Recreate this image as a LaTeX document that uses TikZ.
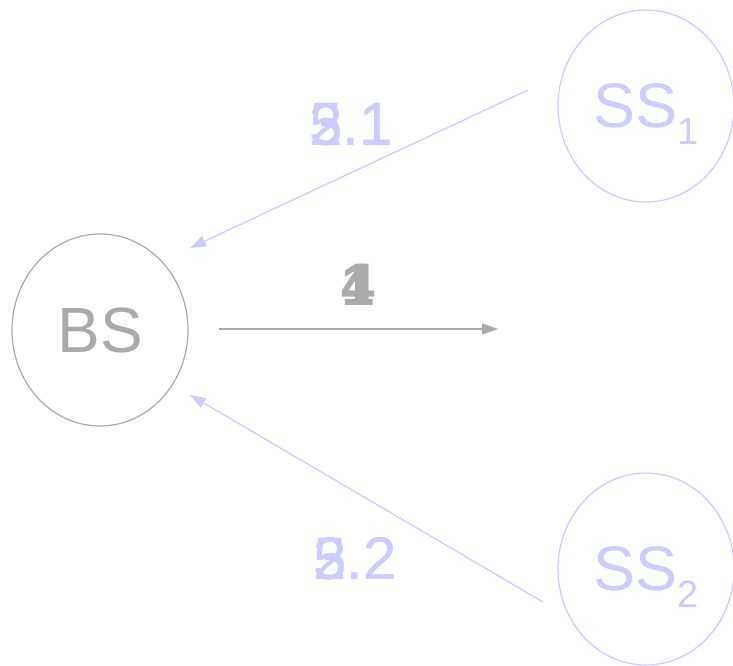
\documentclass[tikz,border=0pt]{standalone}
\usepackage{fontspec}
\setmainfont{Liberation Sans}
\usetikzlibrary{shapes.geometric,arrows.meta}
\definecolor{lav}{HTML}{CCCCFF}
\definecolor{gry}{HTML}{AAAAAA}
\newcommand{\stsub}[1]{\smash{\raisebox{-17pt}{\fontsize{38}{40}\selectfont #1}}}
\begin{document}
\begin{tikzpicture}[x=1pt,y=-1pt,
  station/.style={draw,ellipse,minimum width=176pt,minimum height=192pt,inner sep=0pt,line width=1.2pt},
  msg/.style={line width=1.2pt,-{Triangle[length=16pt,width=11pt]}},
  lbl/.style={font=\fontsize{60}{64}\selectfont,inner sep=0pt}]
\useasboundingbox (0,0) rectangle (733,666);
\node[station,draw=gry,text=gry,font=\fontsize{64}{70}\selectfont] (bs) at (100,330) {BS};
\node[station,draw=lav,text=lav,font=\fontsize{63}{70}\selectfont] (ss1) at (646,106) {SS\stsub{1}};
\node[station,draw=lav,text=lav,font=\fontsize{63}{70}\selectfont] (ss2) at (646,569) {SS\stsub{2}};
\coordinate (a1s) at (528,90);
\coordinate (a1e) at (190,248);
\coordinate (a2s) at (543,602);
\coordinate (a2e) at (190,395);
\coordinate (a0s) at (219,329);
\coordinate (a0e) at (498,329);
\draw[msg,lav] (a1s) -- (a1e);
\draw[msg,lav] (a2s) -- (a2e);
\draw[msg,gry] (a0s) -- (a0e);
\node[lbl,text=lav] (l31) at (351,124.5) {2.1};
\node[lbl,text=lav] (l31b) at (351,124.5) {3.1};
\node[lbl,text=lav] (l31c) at (351,124.5) {5.1};
\node[lbl,text=lav] (l32) at (355,558.5) {2.2};
\node[lbl,text=lav] (l32b) at (355,558.5) {3.2};
\node[lbl,text=lav] (l32c) at (355,558.5) {5.2};
\node[lbl,text=gry,font=\bfseries\fontsize{60}{64}\selectfont] (l4) at (358.5,285) {4};
\node[lbl,text=gry,font=\bfseries\fontsize{60}{64}\selectfont] (l1) at (358.5,285) {1};
\end{tikzpicture}
\end{document}
